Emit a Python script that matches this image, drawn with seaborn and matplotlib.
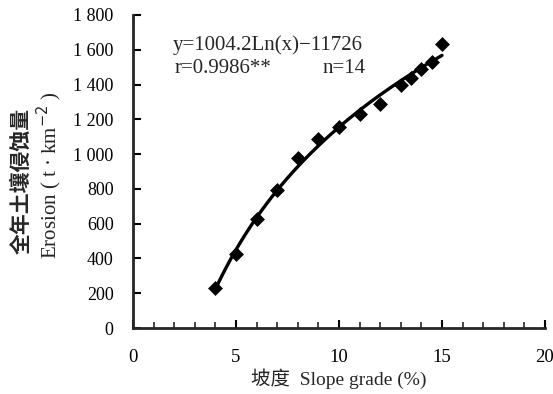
import numpy as np
import pandas as pd
import matplotlib
matplotlib.use("Agg")
import matplotlib.pyplot as plt
from matplotlib.ticker import FuncFormatter, MultipleLocator
import seaborn as sns

# Slope grade (%) and annual erosion (t km-2)
slope = [4, 5, 6, 7, 8, 9, 10, 11, 12, 13, 13.5, 14, 14.5, 15]
erosion = [228, 425, 628, 795, 975, 1085, 1155, 1230, 1290, 1400, 1440, 1490, 1530, 1632]

equation = "y=1004.2Ln(x)\u221211726"
r_text = "r=0.9986**"
n_text = "n=14"


def make_plot(df):
    sns.set_style("ticks")
    plt.rcParams["font.family"] = ["Liberation Serif", "Noto Sans CJK SC"]
    plt.rcParams["axes.linewidth"] = 2

    fig = plt.figure(figsize=(5.53, 3.94), dpi=100)
    ax = fig.add_axes([0.2405, 0.1675, 0.745, 0.7945])

    # fitted logarithmic trend line
    sns.regplot(x="slope", y="erosion", data=df, logx=True, ci=None,
                scatter=False, ax=ax, line_kws={"color": "black", "linewidth": 2.4})
    # observed points
    sns.scatterplot(x="slope", y="erosion", data=df, ax=ax, marker="D",
                    color="black", s=50, edgecolor="black", linewidth=0.5, zorder=3)

    ax.set_xlim(0, 20)
    ax.set_ylim(0, 1800)
    ax.xaxis.set_major_locator(MultipleLocator(5))
    ax.xaxis.set_minor_locator(MultipleLocator(1))
    ax.yaxis.set_major_locator(MultipleLocator(200))
    ax.yaxis.set_major_formatter(FuncFormatter(
        lambda v, p: f"{int(v):,}".replace(",", " ")))
    ax.tick_params(axis="both", which="major", direction="in", length=6,
                   width=1.5, labelsize=13, colors="black")
    ax.tick_params(axis="y", which="major", pad=14)
    ax.tick_params(axis="x", which="major", labelsize=13.5, pad=15)
    ax.tick_params(axis="x", which="minor", direction="in", length=4, width=1.2)
    sns.despine(ax=ax)

    ax.set_xlabel("坡度  Slope grade (%)", fontsize=14, labelpad=2)
    ax.set_ylabel("")
    fig.text(0.038, 0.54, "全年土壤侵蚀量", rotation=90, ha="center", va="center",
             fontsize=15, fontweight="bold", family=["Noto Sans CJK SC"])
    fig.text(0.089, 0.555, "Erosion ( t · km$^{-2}$ )", rotation=90, ha="center",
             va="center", fontsize=15)

    ax.text(1.95, 1625, equation, fontsize=15, ha="left", va="center")
    ax.text(2.0, 1490, r_text, fontsize=15, ha="left", va="center")
    ax.text(9.2, 1490, n_text, fontsize=15, ha="left", va="center")

    fig.savefig("out.png", dpi=100)


def main():
    df = pd.DataFrame({"slope": slope, "erosion": erosion})
    make_plot(df)


if __name__ == "__main__":
    main()
